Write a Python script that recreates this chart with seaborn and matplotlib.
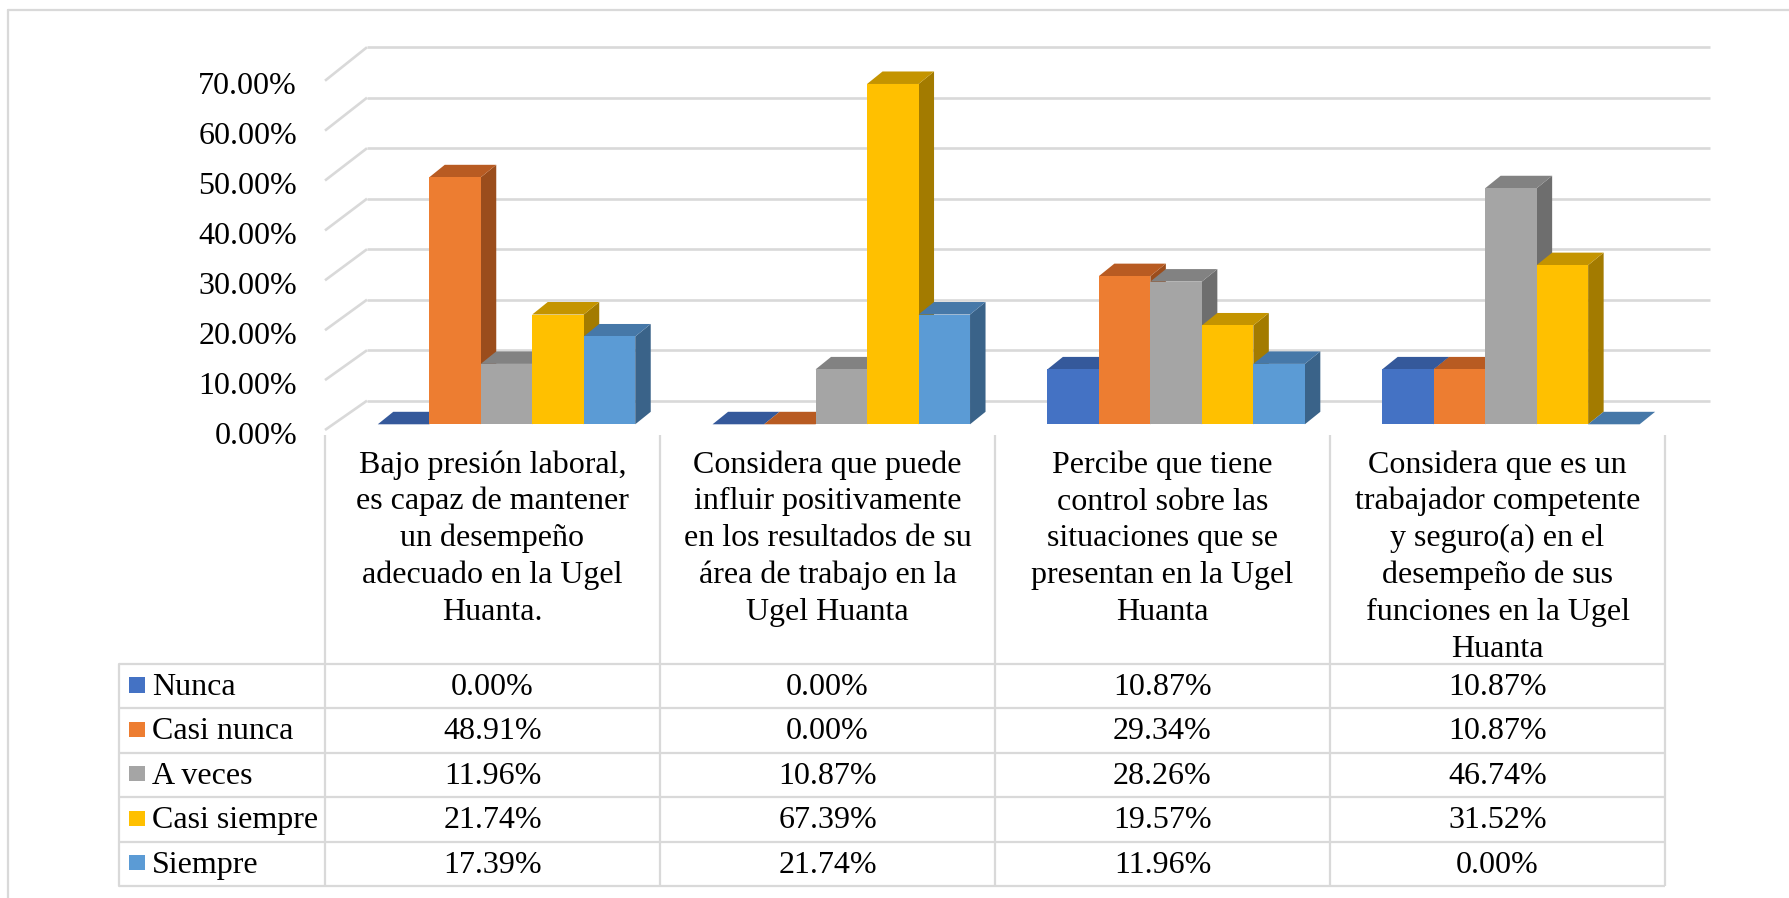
import numpy as np
import pandas as pd
import matplotlib
matplotlib.use("Agg")
import matplotlib.pyplot as plt
import seaborn as sns
from matplotlib.patches import Polygon, Rectangle

# ---------------- data ----------------
category_lines = [
    ["Bajo presión laboral,", "es capaz de mantener", "un desempeño", "adecuado en la Ugel", "Huanta."],
    ["Considera que puede", "influir positivamente", "en los resultados de su", "área de trabajo en la", "Ugel Huanta"],
    ["Percibe que tiene", "control sobre las", "situaciones que se", "presentan en la Ugel", "Huanta"],
    ["Considera que es un", "trabajador competente", "y seguro(a) en el", "desempeño de sus", "funciones en la Ugel", "Huanta"],
]
categories = [" ".join(c) for c in category_lines]
series = ["Nunca", "Casi nunca", "A veces", "Casi siempre", "Siempre"]
nunca = [0.00, 0.00, 10.87, 10.87]
casi_nunca = [48.91, 0.00, 29.34, 10.87]
a_veces = [11.96, 10.87, 28.26, 46.74]
casi_siempre = [21.74, 67.39, 19.57, 31.52]
siempre = [17.39, 21.74, 11.96, 0.00]
values = [nunca, casi_nunca, a_veces, casi_siempre, siempre]
yticks = [0, 10, 20, 30, 40, 50, 60, 70]

front_colors = ["#4472C4", "#ED7D31", "#A5A5A5", "#FFC000", "#5B9BD5"]
top_colors = ["#35599B", "#B85B22", "#828282", "#C49400", "#4678A8"]
side_colors = ["#2E4E88", "#9B4D1C", "#6E6E6E", "#A37B00", "#3A6389"]

# ---------------- layout ----------------
sns.set_theme(style="white")
plt.rcParams["font.family"] = ["Liberation Serif", "DejaVu Serif"]

W, H = 1789, 898
fig = plt.figure(figsize=(W / 100, H / 100), dpi=100)
fig.patch.set_facecolor("white")

X0, XS = 506.5, 334.8   # pixel of category 0 centre, pixels per category
Y0, YS = 424.3, 5.05    # pixel of value 0 (bar front), pixels per percent

# overlay axes in pixel coordinates (table, labels, border)
ov = fig.add_axes([0, 0, 1, 1], zorder=0)
ov.set_xlim(0, W)
ov.set_ylim(H, 0)
ov.axis("off")

ax = fig.add_axes([(X0 - 0.5 * XS) / W, (H - Y0) / H, 4 * XS / W, 70 * YS / H], zorder=1)

df = pd.DataFrame({
    "Pregunta": np.tile(categories, len(series)),
    "Respuesta": np.repeat(series, len(categories)),
    "Porcentaje": np.concatenate(values),
})
sns.barplot(data=df, x="Pregunta", y="Porcentaje", hue="Respuesta",
            order=categories, hue_order=series,
            palette=dict(zip(series, front_colors)), saturation=1,
            width=0.769, gap=0, linewidth=0, errorbar=None,
            legend=False, ax=ax)
ax.set_xlim(-0.5, 3.5)
ax.set_ylim(0, 70)
ax.axis("off")

# pseudo-3D depth
ddx = 15.5 / XS
ddy = 12.5 / YS

grid_c = "#D9D9D9"
back_off = (Y0 - 400.7) / YS
x_front = (325 - X0) / XS
x_back = (367 - X0) / XS
x_end = (1710 - X0) / XS
for v in yticks:
    yb = v + back_off
    yf = v * 0.988 - (430 - Y0) / YS
    ax.plot([x_back, x_end], [yb, yb], color=grid_c, lw=1.9, zorder=0.5,
            clip_on=False, solid_capstyle="butt")
    ax.plot([x_front, x_back], [yf, yb], color=grid_c, lw=1.9, zorder=0.5,
            clip_on=False, solid_capstyle="butt")

bars = []
for hi, cont in enumerate(ax.containers):
    for p in cont:
        bars.append((p.get_x(), hi, p))
bars.sort(key=lambda t: t[0])
for rank, (x, hi, p) in enumerate(bars):
    w = p.get_width()
    h = p.get_height()
    z = 2 + rank * 0.01
    p.set_zorder(z + 0.005)
    p.set_clip_on(False)
    side = Polygon([(x + w, 0), (x + w + ddx, ddy), (x + w + ddx, h + ddy), (x + w, h)],
                   closed=True, facecolor=side_colors[hi], edgecolor="none",
                   zorder=z, clip_on=False)
    top = Polygon([(x, h), (x + ddx, h + ddy), (x + w + ddx, h + ddy), (x + w, h)],
                  closed=True, facecolor=top_colors[hi], edgecolor="none",
                  zorder=z + 0.001, clip_on=False)
    ax.add_patch(side)
    ax.add_patch(top)

# ---------------- y tick labels ----------------
FS = 23
for v in yticks:
    ov.text(297, 444 - 5.0 * v, f"{v:.2f}%", ha="right", va="baseline", fontsize=FS, color="black")

# ---------------- border ----------------
ov.plot([8, 8], [10, H], color=grid_c, lw=1.6)
ov.plot([8, W], [10, 10], color=grid_c, lw=1.6)

# ---------------- data table ----------------
col_edges = [325, 660, 995, 1330, 1665]
leg_left = 119
row_top = 664
row_h = 44.4
row_edges = [row_top + row_h * r for r in range(len(series) + 1)]
for xe in col_edges:
    ov.plot([xe, xe], [435, row_edges[-1]], color=grid_c, lw=1.6, solid_capstyle="butt")
ov.plot([leg_left, leg_left], [row_edges[0], row_edges[-1]], color=grid_c, lw=1.6)
for ye in row_edges:
    ov.plot([leg_left, col_edges[-1]], [ye, ye], color=grid_c, lw=1.6, solid_capstyle="butt")

centers = [(col_edges[i] + col_edges[i + 1]) / 2 for i in range(len(categories))]
for i, lines in enumerate(category_lines):
    for j, line in enumerate(lines):
        ov.text(centers[i], 472.7 + 36.8 * j, line, ha="center", va="baseline",
                fontsize=FS, color="black")

for r, (name, vals) in enumerate(zip(series, values)):
    top_y = row_edges[r]
    ov.add_patch(Rectangle((129.3, top_y + 13.3), 15.7, 15.4,
                           facecolor=front_colors[r], edgecolor="none"))
    ov.text(151.7, top_y + 31, name, ha="left", va="baseline", fontsize=FS, color="black")
    for i, v in enumerate(vals):
        ov.text(centers[i], top_y + 31, f"{v:.2f}%", ha="center", va="baseline",
                fontsize=FS, color="black")

fig.savefig("out.png", dpi=100, facecolor="white")
